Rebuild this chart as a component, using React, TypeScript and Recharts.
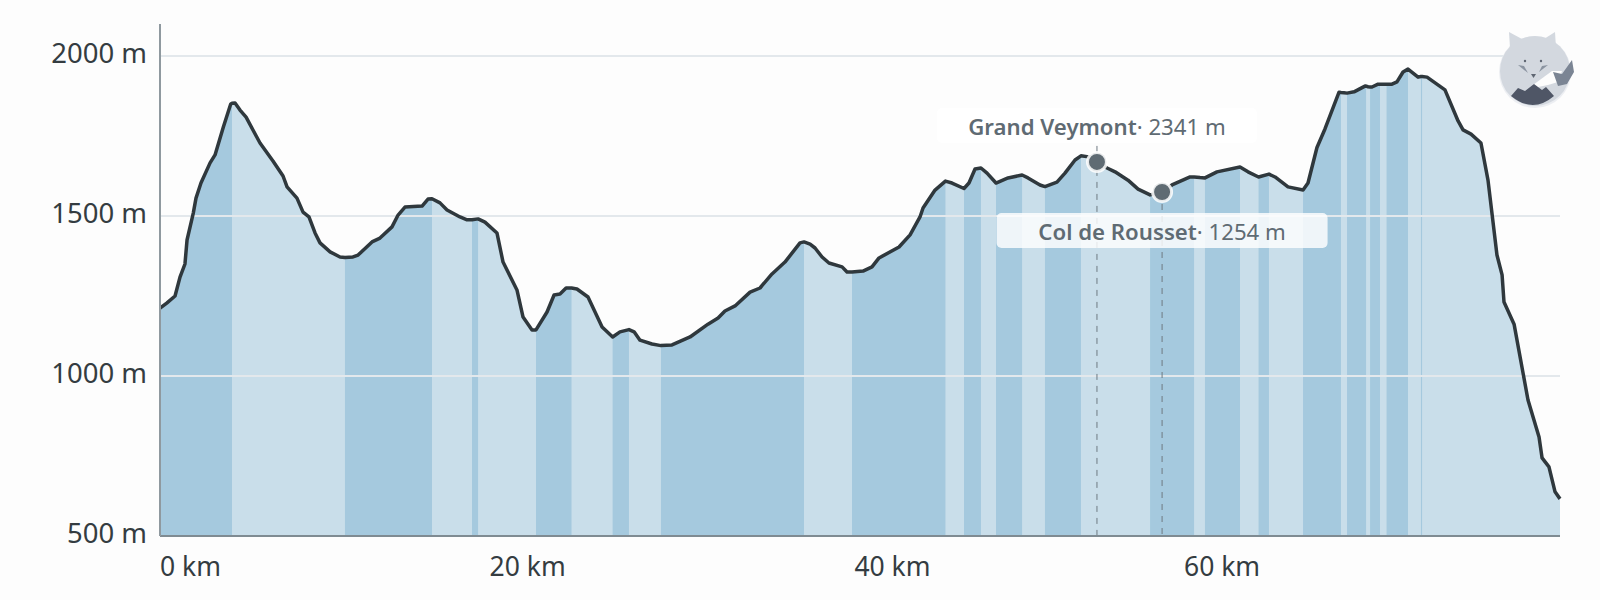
import * as React from 'react';
import {
  ComposedChart,
  Area,
  Line,
  XAxis,
  YAxis,
  ReferenceLine,
  ReferenceDot,
} from 'recharts';

// distance along the route, km (axis is slightly stretched in the source picture)
const distances = [
  0, 0.42, 0.94, 1.25, 1.56, 1.69, 2.08, 2.25, 2.56, 3.13, 3.44, 3.96, 4.42, 4.5, 4.69, 5.0, 5.38, 6.25, 7.06, 7.69,
  7.94, 8.56, 8.94, 9.31, 9.69, 10, 10.63, 11.25, 11.56, 12.06, 12.38, 13.25, 13.75, 14.5, 14.88, 15.31, 16.38, 16.75, 17, 17.5,
  17.94, 18.75, 19.19, 19.5, 19.88, 20.31, 21.06, 21.44, 22.31, 22.69, 23.25, 23.5, 24.19, 24.63, 25, 25.38, 25.72, 26.06, 26.75, 27.63,
  28.29, 28.75, 29.31, 29.63, 30, 30.75, 31.31, 32, 33.13, 34.25, 34.88, 35.31, 35.94, 36.88, 37.5, 38.25, 39.06, 40, 40.25, 40.63,
  40.94, 41.38, 41.81, 42.63, 42.94, 43.25, 43.94, 44.5, 44.94, 46.19, 46.88, 47.5, 47.69, 48.44, 49.09, 49.5, 50.25, 50.56, 50.94, 51.31,
  51.69, 52.25, 53, 53.88, 54.25, 55, 55.31, 56.06, 56.56, 57.19, 57.56, 58.13, 58.56, 59.19, 59.69, 60.5, 61.13, 61.88, 62.63, 63.25,
  64.38, 64.63, 65, 65.31, 66.06, 67.5, 68, 68.66, 69.31, 69.69, 70.5, 71.44, 71.75, 72.31, 72.81, 73.69, 73.81, 74, 74.19, 74.63, 75.31, 75.38,
  75.5, 75.63, 75.75, 76.13, 76.25, 76.45, 76.66, 77, 77.31, 77.69, 78, 78.63, 78.81, 78.88, 79.19, 80.31, 81.13, 81.44, 81.94, 82.56, 83, 83.56,
  83.88, 84, 84.63, 85.5, 86.19, 86.38, 86.81, 87.19, 87.5,
];

// elevation in metres, one per distance
const elevations = [
  1212, 1228, 1250, 1309, 1350, 1425, 1509, 1556, 1603, 1666, 1691, 1778, 1850, 1852, 1853, 1831, 1809, 1728, 1672, 1625,
  1591, 1556, 1512, 1497, 1447, 1416, 1388, 1372, 1370, 1372, 1378, 1419, 1431, 1466, 1503, 1528, 1531, 1553, 1554, 1541,
  1519, 1497, 1488, 1488, 1491, 1481, 1447, 1356, 1269, 1184, 1144, 1144, 1200, 1253, 1256, 1275, 1275, 1272, 1247, 1153,
  1122, 1138, 1145, 1138, 1112, 1100, 1095, 1097, 1122, 1162, 1181, 1203, 1219, 1262, 1275, 1319, 1356, 1416, 1419, 1412,
  1400, 1372, 1353, 1341, 1325, 1325, 1328, 1341, 1369, 1403, 1441, 1497, 1525, 1581, 1609, 1603, 1586, 1603, 1647, 1650,
  1634, 1603, 1619, 1628, 1619, 1597, 1592, 1606, 1634, 1675, 1688, 1684, 1669, 1650, 1638, 1612, 1584, 1566, 1575, 1597,
  1622, 1622, 1620, 1619, 1638, 1653, 1638, 1622, 1631, 1622, 1591, 1581, 1603, 1714, 1772, 1887, 1886, 1885, 1884, 1888, 1906, 1906,
  1904, 1903, 1903, 1912, 1912, 1912, 1912, 1912, 1919, 1950, 1959, 1934, 1936, 1936, 1934, 1894, 1797, 1769, 1756, 1728, 1612, 1378,
  1316, 1231, 1162, 925, 809, 744, 716, 638, 616,
];

// stretches drawn in the darker blue, [from km, to km]
const darkBands = [
  [0, 4.5], [11.56, 17], [19.5, 19.88], [23.5, 25.72], [28.29, 29.31], [31.31, 40.25], [43.25, 49.09], [50.25, 51.31],
  [52.25, 53.88], [55.31, 57.56], [61.88, 64.63], [65.31, 67.5], [68.66, 69.31], [71.44, 73.81], [74.19, 75.38],
  [75.63, 76.25], [76.66, 78], [78.81, 78.88],
];

const yTicks = [500, 1000, 1500, 2000];
const gridLevels = [1000, 1500, 2000];
const xTicks = [0, 20.6, 43.4, 64];
const xTickLabels = ['0 km', '20 km', '40 km', '60 km'];

const peakNames = ['Grand Veymont', 'Col de Rousset'];
const peakHeights = ['2341 m', '1254 m'];
const peakKm = [58.56, 62.63];
const peakElevations = [1669, 1575];
const peakLineTops = [1719, 1575];

const GREY = '#5f6b73';
const TEXT = '#343c41';
const FONT = '"Noto Sans", sans-serif';

const profile = distances.map((km, i) => ({
  km,
  elevation: elevations[i],
  dark: darkBands.some(([a, b]) => km >= a && km <= b) ? elevations[i] : null,
}));

function XTick({ x, y, index }: any) {
  return (
    <text x={x} y={y + 32} textAnchor="start" fontSize={26.5} fontFamily={FONT} fill={TEXT}>
      {xTickLabels[index]}
    </text>
  );
}

function YTick({ x, y, payload }: any) {
  return (
    <text x={x} y={y + 7} textAnchor="end" fontSize={27.5} fontFamily={FONT} fill={TEXT}>
      {payload.value} m
    </text>
  );
}

function PeakLabel({ cx, cy, index }: any) {
  const below = index === 1;
  const width = below ? 331 : 320;
  const top = below ? cy + 21 : cy - 54;
  return (
    <g>
      <rect
        x={cx - width / 2}
        y={top}
        width={width}
        height={35}
        rx={5}
        fill="#ffffff"
        fillOpacity={below ? 0.82 : 1}
      />
      <text x={cx} y={top + 27} textAnchor="middle" fontSize={22.2} fontFamily={FONT} fill={GREY}>
        <tspan fontWeight={600}>{peakNames[index]}</tspan>
        <tspan>{'\u00b7 ' + peakHeights[index]}</tspan>
      </text>
    </g>
  );
}

function Logo() {
  return (
    <svg
      width={90}
      height={90}
      viewBox="1490 25 90 90"
      style={{ position: 'absolute', left: 1490, top: 25 }}
    >
      <circle cx={1535} cy={72} r={36} fill="#eceef2" />
      <circle cx={1535} cy={71} r={35} fill="#d3d8df" />
      <polygon points="1509,32 1510,48 1522,39" fill="#d3d8df" />
      <polygon points="1555,32 1556,48 1544,39" fill="#d3d8df" />
      <polygon points="1533,85 1552,71 1562,71 1558,82 1548,85 1538,87" fill="#fdfdfd" />
      <polygon points="1553,72 1562,74 1572,60 1574,72 1567,84 1558,86" fill="#7b8594" />
      <path
        d="M1511,96 L1518,88 L1525,91 L1534,84 L1542,90 L1546,87 L1554,96 Q1533,114 1511,96 Z"
        fill="#4f5666"
      />
      <circle cx={1525} cy={61} r={1.2} fill="#5f6672" />
      <circle cx={1541} cy={61} r={1.2} fill="#5f6672" />
      <polygon points="1518,65 1524,66 1528,73" fill="#8a93a0" />
      <polygon points="1548,65 1542,66 1539,72" fill="#8a93a0" />
      <polygon points="1531,74 1536,74 1533.5,78" fill="#5f6672" />
    </svg>
  );
}

export default function App() {
  return (
    <div style={{ position: 'absolute', left: 0, top: 0, width: 1600, height: 600, background: '#fdfdfd' }}>
      <ComposedChart
        width={1600}
        height={600}
        data={profile}
        margin={{ top: 24, right: 40, bottom: 0, left: 0 }}
      >
        <XAxis
          dataKey="km"
          type="number"
          domain={[0, 87.5]}
          ticks={xTicks}
          interval={0}
          height={64}
          tick={<XTick />}
          tickLine={false}
          axisLine={{ stroke: '#7f8b92', strokeWidth: 2 }}
        />
        <YAxis
          type="number"
          domain={[500, 2100]}
          ticks={yTicks}
          interval={0}
          width={160}
          tick={<YTick />}
          tickMargin={7}
          tickLine={false}
          axisLine={{ stroke: '#8f999f', strokeWidth: 2 }}
        />
        <Area
          dataKey="elevation"
          type="linear"
          fill="#c9deea"
          fillOpacity={1}
          stroke="none"
          dot={false}
          activeDot={false}
          isAnimationActive={false}
        />
        <Area
          dataKey="dark"
          type="linear"
          fill="#a5c9de"
          fillOpacity={1}
          stroke="none"
          dot={false}
          activeDot={false}
          isAnimationActive={false}
        />
        {gridLevels.map((level) => (
          <ReferenceLine key={level} y={level} stroke="#e3e8ec" strokeWidth={2} />
        ))}
        <Line
          dataKey="elevation"
          type="linear"
          stroke="#2f383d"
          strokeWidth={3.5}
          strokeLinejoin="round"
          dot={false}
          activeDot={false}
          isAnimationActive={false}
        />
        {peakKm.map((km, i) => (
          <ReferenceLine
            key={peakNames[i]}
            segment={[
              { x: km, y: peakLineTops[i] },
              { x: km, y: 500 },
            ]}
            stroke="#6f7a82"
            strokeWidth={1}
            strokeDasharray="6 6"
          />
        ))}
        {peakKm.map((km, i) => (
          <ReferenceDot
            key={peakNames[i]}
            x={km}
            y={peakElevations[i]}
            r={9.5}
            fill={GREY}
            stroke="#ffffff"
            strokeOpacity={0.85}
            strokeWidth={3}
          />
        ))}
        {peakKm.map((km, i) => (
          <ReferenceDot
            key={peakNames[i]}
            x={km}
            y={peakElevations[i]}
            shape={(props: any) => <PeakLabel {...props} index={i} />}
          />
        ))}
      </ComposedChart>
      <Logo />
    </div>
  );
}
